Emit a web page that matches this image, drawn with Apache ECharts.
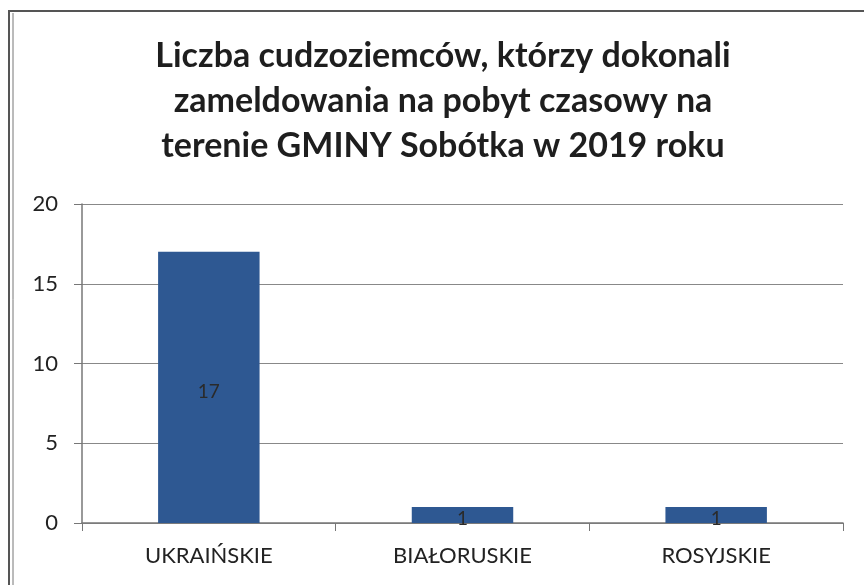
<!DOCTYPE html>
<html>
<head>
<meta charset="utf-8">
<script src="https://cdn.jsdelivr.net/npm/echarts@6/dist/echarts.min.js"></script>
<style>
  html, body { margin: 0; padding: 0; background: #fff; }
  #chart { width: 864px; height: 585px; }
</style>
</head>
<body>
<div id="chart"></div>
<script>
// dane
var categories = ['UKRAIŃSKIE', 'BIAŁORUSKIE', 'ROSYJSKIE']
var values = [17, 1, 1]
var yTicks = [0, 5, 10, 15, 20]

var titleText = 'Liczba cudzoziemców, którzy dokonali\nzameldowania na pobyt czasowy na\nterenie GMINY Sobótka w 2019 roku'

var chart = echarts.init(document.getElementById('chart'))

var option = {
  backgroundColor: '#fff',
  animation: false,
  title: {
    text: titleText,
    left: 438,
    top: 29,
    textAlign: 'center',
    textStyle: {
      fontFamily: 'Lato',
      fontWeight: 'bold',
      fontSize: 34,
      lineHeight: 45,
      color: '#1e1e1e'
    }
  },
  // ramka wykresu
  graphic: [
    { type: 'rect', shape: { x: 9, y: 11, width: 900, height: 620 }, style: { fill: 'none', stroke: '#555', lineWidth: 2 } },
    { type: 'line', shape: { x1: 13, y1: 13, x2: 13, y2: 620 }, style: { stroke: '#777', lineWidth: 1 } }
  ],
  grid: { left: 82, right: 21, top: 204, bottom: 62 },
  xAxis: {
    type: 'category',
    data: categories,
    axisLine: { lineStyle: { color: '#777', width: 1.5 } },
    axisTick: { show: true, length: 8, lineStyle: { color: '#777' } },
    axisLabel: { fontFamily: 'Lato', fontSize: 22, color: '#222', margin: 22 }
  },
  yAxis: {
    type: 'value',
    min: yTicks[0],
    max: yTicks[yTicks.length - 1],
    interval: 5,
    axisLine: { show: true, lineStyle: { color: '#777', width: 1.5 } },
    axisTick: { show: true, length: 8, lineStyle: { color: '#777' } },
    axisLabel: { fontFamily: 'Lato', fontSize: 22, color: '#222', margin: 24 },
    splitLine: { lineStyle: { color: '#888', width: 1.2 } }
  },
  series: [{
    type: 'bar',
    data: values,
    barWidth: '40%',
    itemStyle: { color: '#2e5892' },
    label: {
      show: true,
      position: 'inside',
      offset: [0, 4],
      fontFamily: 'Lato',
      fontSize: 19,
      color: '#2a2a2a'
    }
  }]
}

chart.setOption(option)
</script>
</body>
</html>
